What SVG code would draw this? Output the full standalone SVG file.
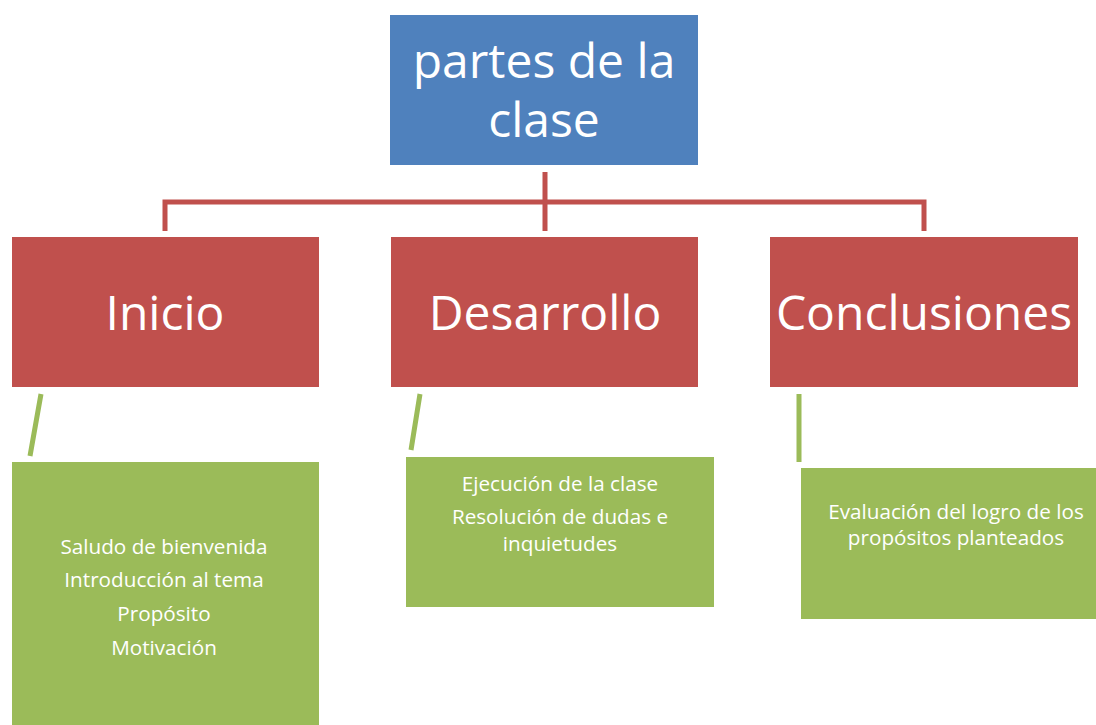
<svg xmlns="http://www.w3.org/2000/svg" width="1096" height="725" viewBox="0 0 1096 725">
<style>
.blue{fill:#4F81BD}
.red{fill:#C0504D}
.green{fill:#9BBB59}
.big{font-family:"Open Sans","Liberation Sans",sans-serif;font-size:48px;fill:#fff;text-anchor:middle}
.small{font-family:"Open Sans","Liberation Sans",sans-serif;font-size:20.7px;fill:#fff;text-anchor:middle}
.rl{stroke:#C0504D;stroke-width:5;fill:none}
.gl{stroke:#9BBB59;stroke-width:5;fill:none}
</style>
<rect width="1096" height="725" fill="#fff"/>
<g id="connectors">
<path class="rl" d="M545 172V231M165 231V202H924V231"/>
<path class="gl" d="M41 394L30 456M420 394L411 450M799 394V462"/>
</g>
<g id="root">
<rect class="blue" x="390" y="15" width="308" height="150"/>
<text class="big" x="544" y="78">partes de la</text>
<text class="big" x="544" y="137">clase</text>
</g>
<g id="inicio">
<rect class="red" x="12" y="237" width="307" height="150"/>
<text class="big" x="165" y="330">Inicio</text>
</g>
<g id="desarrollo">
<rect class="red" x="391" y="237" width="307" height="150"/>
<text class="big" x="545" y="330">Desarrollo</text>
</g>
<g id="conclusiones">
<rect class="red" x="770" y="237" width="308" height="150"/>
<text class="big" x="924" y="330">Conclusiones</text>
</g>
<g id="inicio-detalle">
<rect class="green" x="12" y="462" width="307" height="263"/>
<text class="small" x="164" y="554">Saludo de bienvenida</text>
<text class="small" x="164" y="587">Introducción al tema</text>
<text class="small" x="164" y="621">Propósito</text>
<text class="small" x="164" y="655">Motivación</text>
</g>
<g id="desarrollo-detalle">
<rect class="green" x="406" y="457" width="308" height="150"/>
<text class="small" x="560" y="491">Ejecución de la clase</text>
<text class="small" x="560" y="524">Resolución de dudas e</text>
<text class="small" x="560" y="551">inquietudes</text>
</g>
<g id="conclusiones-detalle">
<rect class="green" x="801" y="468" width="295" height="151"/>
<text class="small" x="956" y="519">Evaluación del logro de los</text>
<text class="small" x="956" y="545">propósitos planteados</text>
</g>
</svg>
